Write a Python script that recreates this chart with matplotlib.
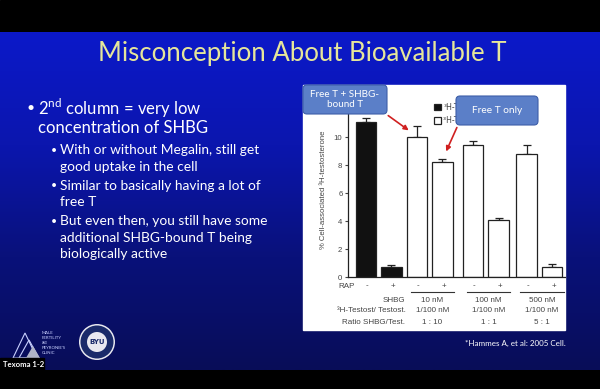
import matplotlib
matplotlib.use("Agg")
import matplotlib.pyplot as plt
import numpy as np
from matplotlib.colors import LinearSegmentedColormap
from matplotlib.patches import Rectangle, FancyBboxPatch, Circle, Polygon

# chart values
bar_values = [11.1, 0.7, 10.0, 8.2, 9.4, 4.1, 8.8, 0.75]
bar_errors = [0.25, 0.15, 0.8, 0.25, 0.3, 0.15, 0.6, 0.2]
bar_colors = ["#111111", "#111111", "white", "white", "white", "white", "white", "white"]
rap_signs = ["-", "+", "-", "+", "-", "+", "-", "+"]
shbg_conc = ["10 nM", "100 nM", "500 nM"]
testost_conc = ["1/100 nM", "1/100 nM", "1/100 nM"]
ratios = ["1 : 10", "1 : 1", "5 : 1"]
yticks = [0, 2, 4, 6, 8, 10]
legend_labels = ["\u00b3H-Testosterone", "\u00b3H-Testosterone + SHBG"]

title = "Misconception About Bioavailable T"
main_bullet = ["2$^{\\rm nd}$ column = very low", "concentration of SHBG"]
sub_bullets = [
    ["With or without Megalin, still get", "good uptake in the cell"],
    ["Similar to basically having a lot of", "free T"],
    ["But even then, you still have some", "additional SHBG-bound T being", "biologically active"],
]

plt.rcParams["mathtext.fontset"] = "custom"
plt.rcParams["mathtext.rm"] = "Lato"
W, H = 600, 389
fig = plt.figure(figsize=(6, 3.89), dpi=100)

# slide background in pixel coordinates
bg = fig.add_axes([0, 0, 1, 1])
bg.add_patch(Rectangle((0, 0), W, H, color="black"))
grad = LinearSegmentedColormap.from_list("slide", ["#0c19c9", "#0b16ae", "#09117a", "#080d58"])
bg.imshow(np.linspace(0, 1, 200).reshape(-1, 1), cmap=grad, aspect="auto",
          extent=[0, W, 370, 32], zorder=1)
bg.set_xlim(0, W)
bg.set_ylim(H, 0)
bg.axis("off")

bg.text(302, 53, title, color="#e6e69a", fontsize=18.5, family="Lato",
        ha="center", va="center", zorder=2)

font_txt = dict(color="white", family="Lato", va="center", zorder=2)
bg.text(27, 108, "\u2022", fontsize=10, **font_txt)
for i, line in enumerate(main_bullet):
    bg.text(38, 108 + i * 20, line, fontsize=12, **font_txt)
y = 150
for item in sub_bullets:
    bg.text(51, y, "\u2022", fontsize=7.5, **font_txt)
    for line in item:
        bg.text(60, y, line, fontsize=9.9, **font_txt)
        y += 16.5
    y += 2.5

bg.text(566, 343, "*Hammes A, et al: 2005 Cell.", color="white", fontsize=5.8,
        family="Lato", ha="right", va="center", zorder=2)

# logos bottom left
tri = dict(fill=False, edgecolor="#c8d0ff", lw=0.8, zorder=2)
bg.add_patch(Polygon([[13, 358], [25, 333], [37, 358]], **tri))
bg.add_patch(Polygon([[19, 358], [29, 340], [39, 358]], **tri))
bg.add_patch(Polygon([[26, 358], [33, 346], [40, 358]], closed=True,
                     facecolor="#b0b4c8", edgecolor="none", zorder=2))
for i, w in enumerate(["MALE", "FERTILITY", "AND", "PEYRONIE'S", "CLINIC"]):
    bg.text(42, 333 + i * 5, w, color="#c8d0ff", fontsize=3.2 if w != "AND" else 2,
            family="Lato", va="center", zorder=2)
bg.add_patch(Circle((97, 342), 18, facecolor="#e8e8f0", edgecolor="none", zorder=2))
bg.add_patch(Circle((97, 342), 16.5, facecolor="#1a2a6a", edgecolor="none", zorder=2))
bg.add_patch(Circle((97, 342), 10, facecolor="#e8e8f0", edgecolor="none", zorder=2))
bg.text(97, 342.5, "BYU", color="#1a2a6a", fontsize=5, fontweight="bold",
        ha="center", va="center", zorder=3)
bg.add_patch(Rectangle((0, 358), 44, 13, color="black", zorder=2))
bg.text(3, 364.5, "Texoma 1-2", color="white", fontsize=5.6, fontweight="bold",
        family="Lato", va="center", zorder=3)

# white panel for the figure
bg.add_patch(Rectangle((303, 85), 262, 245, color="white", zorder=2))

# bar chart axes: y=0 at 277px, 14px per unit, x from 348 to 565px
x0, y0, px_unit = 348, 277, 14.0
ax = fig.add_axes([x0 / W, (H - y0) / H, 217 / W, 12 * px_unit / H])
ax.patch.set_alpha(0)
pair_starts = [0, 2, 4.2, 6.3]
positions = [p + k for p in pair_starts for k in (0, 1)]
bars = ax.bar(positions, bar_values, width=0.8, color=bar_colors,
              edgecolor="#222222", linewidth=0.9, zorder=2)
ax.errorbar(positions, bar_values, yerr=[np.zeros(len(bar_errors)), bar_errors],
            fmt="none", ecolor="#222222", elinewidth=0.9, capsize=3, capthick=0.9, zorder=1)
ax.set_xlim(-0.7, 7.8)
ax.set_ylim(0, 12)
ax.set_yticks(yticks)
ax.set_xticks([])
for s in ["top", "right"]:
    ax.spines[s].set_visible(False)
for s in ["left", "bottom"]:
    ax.spines[s].set_linewidth(0.9)
    ax.spines[s].set_color("#222222")
ax.tick_params(axis="y", labelsize=5.6, length=2.5, width=0.8, pad=1.5,
               colors="#444444", labelfontfamily="Liberation Sans")
ax.text(-0.115, 0.52, "% Cell-associated \u00b3H-testosterone", transform=ax.transAxes,
        rotation=90, ha="center", va="center", fontsize=5.6, color="#444444",
        family="Liberation Sans")

tr = ax.get_xaxis_transform()
chart_txt = dict(transform=tr, fontsize=5.8, color="#444444", family="Liberation Sans",
                 va="center", clip_on=False)
ax.text(-0.75, -0.054, "RAP", ha="center", **chart_txt)
for p, s in zip(positions, rap_signs):
    ax.text(p + 0.05, -0.054, s, ha="center", **chart_txt)
row_y = [-0.137, -0.202, -0.268]
for label, ry in zip(["SHBG", "\u00b3H-Testost/ Testost.", "Ratio SHBG/Test."], row_y):
    ax.text(1.55, ry, label, ha="right", **chart_txt)
for p, a, b, c in zip(pair_starts[1:], shbg_conc, testost_conc, ratios):
    ax.plot([p - 0.25, p + 1.45], [-0.089, -0.089], transform=tr, color="#333333",
            lw=0.8, clip_on=False)
    for v, ry in zip([a, b, c], row_y):
        ax.text(p + 0.6, ry, v, ha="center", **chart_txt)

leg = ax.legend(bars[1:3], legend_labels, loc="upper left", frameon=False,
                bbox_to_anchor=(430 / W, 1 - 99 / H), bbox_transform=fig.transFigure,
                fontsize=5.6, handlelength=0.9, handleheight=0.9, handletextpad=0.3,
                labelspacing=0.55, borderpad=0)
for t in leg.get_texts():
    t.set_color("#444444")

# callouts on top
top = fig.add_axes([0, 0, 1, 1], zorder=5)
top.set_xlim(0, W)
top.set_ylim(H, 0)
top.axis("off")
box = dict(boxstyle="round,pad=0,rounding_size=4", facecolor="#5b7fc8",
           edgecolor="#3d5ea8", linewidth=0.8)
top.add_patch(FancyBboxPatch((303, 85), 84, 29, **box))
top.text(345, 99.5, "Free T + SHBG-\nbound T", color="white", fontsize=7.1, family="Lato",
         ha="center", va="center", linespacing=1.1)
top.add_patch(FancyBboxPatch((456, 96), 82, 29, **box))
top.text(497, 110.5, "Free T only", color="white", fontsize=7.3, family="Lato",
         ha="center", va="center")
arrow = dict(arrowstyle="-|>", color="#d02020", lw=1.2, mutation_scale=7)
top.annotate("", xy=(411, 132), xytext=(386, 114), arrowprops=arrow)
top.annotate("", xy=(445, 154), xytext=(458, 125), arrowprops=arrow)

fig.savefig("out.png", dpi=100)
